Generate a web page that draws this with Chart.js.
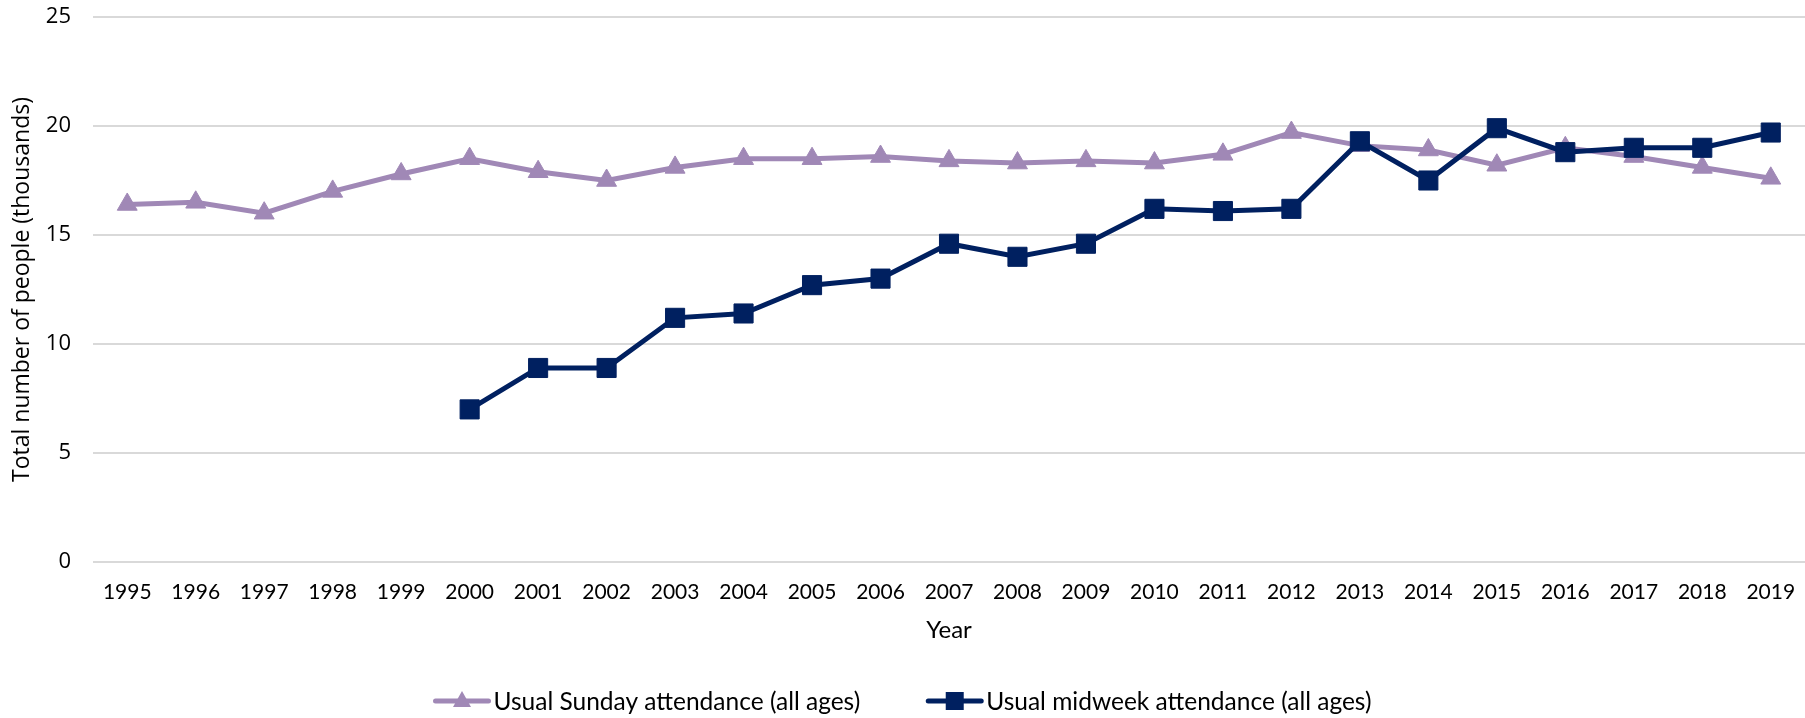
<!DOCTYPE html>
<html><head><meta charset="utf-8">
<script src="https://cdn.jsdelivr.net/npm/chart.js@4.4.1/dist/chart.umd.min.js"></script>
<style>html,body{margin:0;padding:0;background:#fff;}canvas{display:block;}</style>
</head><body>
<canvas id="c" width="1805" height="718"></canvas>
<script>
const years = ['1995','1996','1997','1998','1999','2000','2001','2002','2003','2004','2005','2006','2007','2008','2009','2010','2011','2012','2013','2014','2015','2016','2017','2018','2019'];
const sundayAttendance = [16.4,16.5,16.0,17.0,17.8,18.5,17.9,17.5,18.1,18.5,18.5,18.6,18.4,18.3,18.4,18.3,18.7,19.7,19.1,18.9,18.2,19.0,18.6,18.1,17.6];
const midweekAttendance = [null,null,null,null,null,7.0,8.9,8.9,11.2,11.4,12.7,13.0,14.6,14.0,14.6,16.2,16.1,16.2,19.3,17.5,19.9,18.8,19.0,19.0,19.7];
const yTickValues = [0,5,10,15,20,25];
const seriesNames = ['Usual Sunday attendance (all ages)','Usual midweek attendance (all ages)'];
const yTitle = 'Total number of people (thousands)';
const xTitle = 'Year';

const SUN = '#A088B6';
const MID = '#002060';
const FONT = 'Lato, "Open Sans", sans-serif';
const FONT2 = '"Open Sans", Lato, sans-serif';

const legendPlugin = {
  id: 'customLegend',
  afterDraw(chart) {
    const ctx = chart.ctx;
    ctx.save();
    ctx.font = '24.5px ' + FONT;
    ctx.textBaseline = 'middle';
    const lineW = 57, gap = 3, itemGap = 66, y = 701;
    const ds = chart.data.datasets;
    const widths = ds.map(d => lineW + gap + ctx.measureText(d.label).width);
    const total = widths.reduce((a, b) => a + b, 0) + itemGap * (ds.length - 1);
    let x = (chart.width - total) / 2;
    ds.forEach((d, i) => {
      ctx.strokeStyle = d.borderColor;
      ctx.lineWidth = 5;
      ctx.lineCap = 'round';
      ctx.beginPath(); ctx.moveTo(x + 2, y); ctx.lineTo(x + lineW - 2, y); ctx.stroke();
      const cx = x + lineW / 2;
      ctx.fillStyle = d.borderColor;
      ctx.beginPath();
      if (d.pointStyle === 'triangle') {
        ctx.moveTo(cx, y - 10); ctx.lineTo(cx + 9, y + 6); ctx.lineTo(cx - 9, y + 6); ctx.closePath();
      } else {
        ctx.rect(cx - 9, y - 9, 18, 18);
      }
      ctx.fill();
      ctx.fillStyle = '#000';
      ctx.textAlign = 'left';
      ctx.fillText(d.label, x + lineW + gap, y + 1);
      x += widths[i] + itemGap;
    });
    ctx.restore();
  }
};

new Chart(document.getElementById('c'), {
  type: 'line',
  data: {
    labels: years,
    datasets: [
      {
        label: seriesNames[0], data: sundayAttendance, order: 2,
        borderColor: SUN, backgroundColor: SUN, borderWidth: 5,
        pointStyle: 'triangle', pointRadius: 11.5, pointBorderWidth: 1,
        pointBackgroundColor: SUN, pointBorderColor: SUN, tension: 0
      },
      {
        label: seriesNames[1], data: midweekAttendance, order: 1,
        borderColor: MID, backgroundColor: MID, borderWidth: 5,
        pointStyle: 'rect', pointRadius: 13.5, pointBorderWidth: 1,
        pointBackgroundColor: MID, pointBorderColor: MID, tension: 0, spanGaps: false
      }
    ]
  },
  options: {
    responsive: false,
    animation: false,
    devicePixelRatio: 1,
    layout: { autoPadding: false, padding: { top: 17, right: 0, bottom: 0, left: 0 } },
    plugins: { legend: { display: false }, tooltip: { enabled: false } },
    scales: {
      x: {
        offset: true,
        grid: { display: false, drawTicks: false },
        border: { display: false },
        ticks: { color: '#000', font: { family: FONT, size: 21 }, padding: 18, maxRotation: 0, autoSkip: false },
        title: { display: true, text: xTitle, color: '#000', font: { family: FONT, size: 24 }, padding: { top: 0, bottom: 73 } },
        afterFit(scale) { scale.height = 156; scale.paddingLeft = 0; scale.paddingRight = 0; }
      },
      y: {
        min: 0, max: 25,
        afterBuildTicks(scale) { scale.ticks = yTickValues.map(v => ({ value: v })); },
        grid: { color: '#D9D9D9', lineWidth: 2, drawTicks: false },
        border: { display: false },
        ticks: { color: '#000', font: { family: FONT2, size: 22 }, padding: 22 },
        title: { display: true, text: yTitle, color: '#000', font: { family: FONT2, size: 23 }, padding: { top: 9, bottom: 4 } },
        afterFit(scale) { scale.width = 93; scale.paddingTop = 0; scale.paddingBottom = 0; }
      }
    }
  },
  plugins: [legendPlugin]
});
</script>
</body></html>
